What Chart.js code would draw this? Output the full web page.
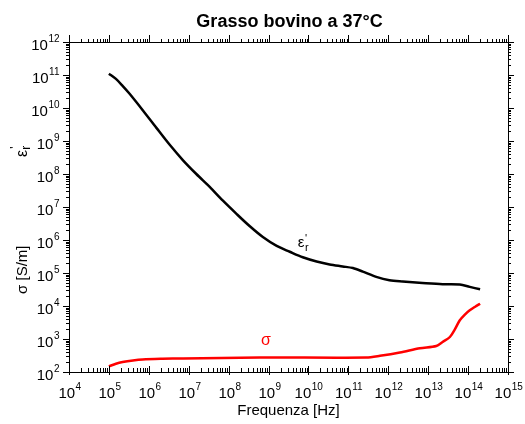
<!DOCTYPE html>
<html>
<head>
<meta charset="utf-8">
<title>Grasso bovino a 37°C</title>
<script src="https://cdn.jsdelivr.net/npm/chart.js@4"></script>
<style>
  html, body { margin: 0; padding: 0; background: #fff; }
  #grafico { display: block; }
</style>
</head>
<body>
<canvas id="grafico" width="525" height="424"></canvas>
<script>
// permittività relativa (parte reale) del grasso bovino
var frequenzaEps = [1e5, 1.5e5, 2.2e5, 3.3e5, 7.2e5, 1.55e6, 3.3e6, 7.2e6, 1.55e7, 3.4e7, 7.2e7,
  1.55e8, 3.4e8, 7.2e8, 1.6e9, 3.4e9, 7.2e9, 1.6e10, 3.4e10, 7.2e10, 1.3e11, 2.3e11, 5e11,
  1.07e12, 2.3e12, 7.2e12, 2.3e13, 6.2e13, 1.1e14, 2e14]
var permittivita = [1.1e11, 7.6e10, 4.7e10, 2.7e10, 8.3e9, 2.5e9, 7.8e8, 2.6e8, 1e8, 4e7, 1.55e7,
  6.3e6, 2.6e6, 1.23e6, 6.6e5, 4.4e5, 3e5, 2.24e5, 1.82e5, 1.58e5, 1.41e5, 1.1e5, 7.6e4,
  6e4, 5.5e4, 5e4, 4.6e4, 4.5e4, 3.8e4, 3.2e4]

// conducibilità [S/m]
var frequenzaSigma = [1e5, 1.5e5, 2.2e5, 4e5, 7e5, 2.2e6, 7.2e6, 6e8, 2.8e11, 6.2e11, 1.95e12,
  6.2e12, 1.6e13, 2.3e13, 3.5e13, 4.7e13, 6.2e13, 8.3e13, 1.1e14, 1.5e14, 2e14]
var conducibilita = [148, 178, 200, 224, 240, 251, 257, 275, 275, 309, 389,
  525, 617, 813, 1150, 2000, 3700, 5500, 7400, 9500, 11700]

var esponentiX = [4, 5, 6, 7, 8, 9, 10, 11, 12, 13, 14, 15]
var esponentiY = [2, 3, 4, 5, 6, 7, 8, 9, 10, 11, 12]

var font = '"Liberation Sans", Arial, sans-serif'

function punti(xs, ys) {
  var lista = []
  for (var i = 0; i < xs.length; i++) {
    lista.push({ x: xs[i], y: ys[i] })
  }
  return lista
}

// "10" con esponente in apice
function scriviPotenza(ctx, x, y, esponente, allinea) {
  ctx.font = '15px ' + font
  var wBase = ctx.measureText('10').width
  ctx.font = '10px ' + font
  var wExp = ctx.measureText(String(esponente)).width
  var inizio = allinea == 'center' ? x - (wBase + wExp) / 2 : x - (wBase + wExp)
  ctx.textAlign = 'left'
  ctx.textBaseline = 'alphabetic'
  ctx.font = '15px ' + font
  ctx.fillText('10', inizio, y)
  ctx.font = '10px ' + font
  ctx.fillText(String(esponente), inizio + wBase + 0.5, y - 8)
}

function linea(ctx, x1, y1, x2, y2) {
  ctx.beginPath()
  ctx.moveTo(x1, y1)
  ctx.lineTo(x2, y2)
  ctx.stroke()
}

var assi = {
  id: 'assi',
  afterDraw: function (chart) {
    var ctx = chart.ctx
    var area = chart.chartArea
    var sx = chart.scales.x
    var sy = chart.scales.y

    ctx.save()
    ctx.strokeStyle = '#000'
    ctx.fillStyle = '#000'
    ctx.lineWidth = 1
    ctx.strokeRect(area.left + 0.5, area.top + 0.5, area.right - area.left, area.bottom - area.top)

    // tacche asse x (sotto verso l'interno, sopra verso l'esterno)
    for (var i = 0; i < esponentiX.length; i++) {
      var e = esponentiX[i]
      var px = Math.round(sx.getPixelForValue(Math.pow(10, e))) + 0.5
      linea(ctx, px, area.bottom - 6, px, area.bottom + 3)
      linea(ctx, px, area.top, px, area.top - 7)
      scriviPotenza(ctx, px, area.bottom + 26, e, 'center')
      if (e == esponentiX[esponentiX.length - 1]) continue
      for (var m = 2; m <= 9; m++) {
        var pm = Math.round(sx.getPixelForValue(m * Math.pow(10, e))) + 0.5
        linea(ctx, pm, area.bottom, pm, area.bottom - 4)
        linea(ctx, pm, area.top, pm, area.top - 3)
      }
    }

    // tacche asse y (verso l'esterno su entrambi i lati)
    for (var j = 0; j < esponentiY.length; j++) {
      var k = esponentiY[j]
      var py = Math.round(sy.getPixelForValue(Math.pow(10, k))) + 0.5
      linea(ctx, area.left, py, area.left - 6, py)
      linea(ctx, area.right, py, area.right + 6, py)
      scriviPotenza(ctx, area.left - 10, py + 7, k, 'right')
      if (k == esponentiY[esponentiY.length - 1]) continue
      for (var n = 2; n <= 9; n++) {
        var pn = Math.round(sy.getPixelForValue(n * Math.pow(10, k))) + 0.5
        linea(ctx, area.left, pn, area.left - 3, pn)
        linea(ctx, area.right, pn, area.right + 3, pn)
      }
    }

    var centroX = (area.left + area.right) / 2

    // titolo
    ctx.textAlign = 'center'
    ctx.textBaseline = 'alphabetic'
    ctx.font = 'bold 18px ' + font
    ctx.fillText('Grasso bovino a 37°C', centroX + 1, 27)

    // titolo asse x
    ctx.font = '15px ' + font
    ctx.fillText('Frequenza [Hz]', centroX, 415)

    // titoli asse y, ruotati
    ctx.save()
    ctx.translate(27, sy.getPixelForValue(Math.pow(10, 5.1)))
    ctx.rotate(-Math.PI / 2)
    ctx.textAlign = 'center'
    ctx.font = '15px ' + font
    ctx.fillText('σ [S/m]', 0, 0)
    ctx.restore()

    ctx.save()
    ctx.translate(27, sy.getPixelForValue(Math.pow(10, 9)))
    ctx.rotate(-Math.PI / 2)
    ctx.textAlign = 'left'
    ctx.font = '16px ' + font
    ctx.fillText('ε', -16, 0)
    var wEps = ctx.measureText('ε').width
    ctx.font = '12px ' + font
    ctx.fillText("'", -16 + wEps + 1, -8)
    ctx.fillText('r', -16 + wEps, 3)
    ctx.restore()

    // etichette delle curve
    var ex = sx.getPixelForValue(5.4e9)
    var ey = sy.getPixelForValue(6.2e5)
    ctx.textAlign = 'left'
    ctx.font = '15px ' + font
    ctx.fillStyle = '#000'
    ctx.fillText('ε', ex, ey)
    var wE = ctx.measureText('ε').width
    ctx.font = '11px ' + font
    ctx.fillText("'", ex + wE + 0.5, ey - 5)
    ctx.fillText('r', ex + wE + 0.5, ey + 4)

    ctx.fillStyle = '#ff0000'
    ctx.font = '16px ' + font
    ctx.fillText('σ', sx.getPixelForValue(6.5e8), sy.getPixelForValue(6.5e2))

    ctx.restore()
  }
}

var ctx = document.getElementById('grafico')

var grafico = new Chart(ctx, {
  type: 'line',
  data: {
    datasets: [{
      label: "ε'r",
      data: punti(frequenzaEps, permittivita),
      borderColor: '#000000',
      borderWidth: 2.5,
      pointRadius: 0,
      tension: 0.3
    }, {
      label: 'σ',
      data: punti(frequenzaSigma, conducibilita),
      borderColor: '#ff0000',
      borderWidth: 2.5,
      pointRadius: 0,
      tension: 0.3
    }]
  },
  options: {
    responsive: false,
    animation: false,
    layout: {
      padding: { left: 69, right: 17, top: 42, bottom: 52 }
    },
    plugins: {
      legend: { display: false },
      tooltip: { enabled: false }
    },
    scales: {
      x: { type: 'logarithmic', min: 1e4, max: 1e15, display: false },
      y: { type: 'logarithmic', min: 1e2, max: 1e12, display: false }
    }
  },
  plugins: [assi]
});
</script>
</body>
</html>
